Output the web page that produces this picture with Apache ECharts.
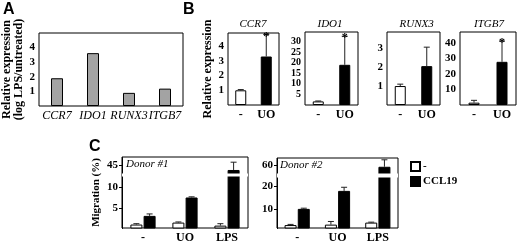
<!DOCTYPE html>
<html>
<head>
<meta charset="utf-8">
<script src="https://cdn.jsdelivr.net/npm/echarts@6/dist/echarts.min.js"></script>
<style>
  body { margin: 0; background: #fff; }
  #div_chart { width: 520px; height: 244px; }
</style>
</head>
<body>
<div id="div_chart"></div>
<script>
"use strict";

// panel A: log LPS/untreated
const genes_a = ["CCR7", "IDO1", "RUNX3", "ITGB7"];
const values_a = [1.9, 3.62, 0.9, 1.19];
const ticks_a = [1, 2, 3, 4];

// panel B: relative expression, "-" vs UO
const treat_b = ["-", "UO"];
const ccr7_mean = [1.0, 3.3];
const ccr7_err = [1.05, 4.8];
const ido1_mean = [1.7, 19.0];
const ido1_err = [1.9, 32.5];
const runx3_mean = [1.0, 2.05];
const runx3_err = [1.1, 3.05];
const itgb7_mean = [1.5, 27.8];
const itgb7_err = [3.0, 41.2];
const ticks_ccr7 = [1, 2, 3, 4];
const ticks_ido1 = [5, 10, 15, 20, 25, 30];
const ticks_runx3 = [1, 2, 3];
const ticks_itgb7 = [10, 20, 30, 40];
const stars_sig = ["", "*"];

// panel C: migration (%)
const treat_c = ["-", "UO", "LPS"];
const d1_ctrl = [1.3, 1.75, 1.05];
const d1_ctrl_err = [1.5, 1.9, 1.5];
const d1_ccl19 = [3.3, 7.55, 43.8];
const d1_ccl19_err = [3.75, 7.7, 45.6];
const d2_ctrl = [2.8, 3.0, 3.9];
const d2_ctrl_err = [3.1, 4.4, 4.1];
const d2_ccl19 = [10.0, 18.0, 59.3];
const d2_ccl19_err = [10.3, 19.6, 62.4];
const ticks_d1 = [5, 10, 45];
const ticks_d2 = [10, 20, 60];

const SERIF = "Liberation Serif";
const SANS = "Liberation Sans";

const chart = echarts.init(document.getElementById("div_chart"));

const grids = [];
const x_axes = [];
const y_axes = [];
const series = [];

function to_err_data(means, errs) {
  return means.map((m, i) => [i, m, errs[i]]);
}

// draws an upper error bar (and optional star) through the axis scales
function render_err(offset_px, stars) {
  return function (params, api) {
    const i = api.value(0);
    const p_top = api.coord([i, api.value(2)]);
    const p_base = api.coord([i, api.value(1)]);
    const x = p_top[0] + offset_px;
    const st = { stroke: "#222", lineWidth: 1 };
    const children = [
      { type: "line", shape: { x1: x, y1: p_base[1], x2: x, y2: p_top[1] }, style: st },
      { type: "line", shape: { x1: x - 3, y1: p_top[1], x2: x + 3, y2: p_top[1] }, style: st },
    ];
    if (stars && stars[i]) {
      children.push({
        type: "text",
        style: { text: stars[i], x: x, y: p_top[1] + 2, align: "center", verticalAlign: "middle",
          font: "bold 12px " + SERIF, fill: "#000" },
      });
    }
    return { type: "group", children: children };
  };
}

function add_grid(pos, cats, cat_label, y_opt) {
  const idx = grids.length;
  const y_min = y_opt.min !== undefined ? y_opt.min : 0;
  // an empty label at the axis min, so the first real tick label is never dropped
  const label_values = [y_min].concat(y_opt.ticks);
  grids.push(Object.assign({ show: true, borderColor: "#000", borderWidth: 1, backgroundColor: "transparent" }, pos));
  x_axes.push({
    gridIndex: idx, type: "category", data: cats,
    axisLine: { show: false }, axisTick: { show: false },
    axisLabel: Object.assign({ color: "#000", fontFamily: SERIF, fontSize: 11, fontWeight: "bold", margin: 4, interval: 0 }, cat_label),
  });
  y_axes.push(Object.assign({
    gridIndex: idx, type: "value", min: 0,
    splitLine: { show: false },
    axisLine: { show: false },
    axisTick: { show: false },
    nameTextStyle: { color: "#000", fontFamily: SERIF, fontSize: 12, fontWeight: "bold" },
  }, y_opt, {
    axisLabel: Object.assign({
      color: "#000", fontFamily: SERIF, fontSize: 11, fontWeight: "bold", margin: 4,
      customValues: label_values, showMinLabel: true, showMaxLabel: true, hideOverlap: false,
      formatter: (v) => (y_opt.ticks.indexOf(v) >= 0 ? String(v) : ""),
    }, y_opt.axisLabel || {}),
  }));
  return idx;
}

function bar(idx, name, data, color, width, gap) {
  return {
    type: "bar", name: name, xAxisIndex: idx, yAxisIndex: idx, data: data,
    barWidth: width, barGap: gap || "10%",
    itemStyle: { color: color, borderColor: "#000", borderWidth: 1 },
    silent: true, animation: false,
  };
}

function err(idx, means, errs, offset, stars) {
  return {
    type: "custom", xAxisIndex: idx, yAxisIndex: idx, z: 5, clip: false,
    data: to_err_data(means, errs), renderItem: render_err(offset, stars),
    silent: true, animation: false,
  };
}

//
// Panel A
//
let g = add_grid({ left: 39, top: 33, width: 144, height: 73 }, genes_a,
  { fontStyle: "italic", fontWeight: "normal", fontSize: 12 },
  { max: 5, ticks: ticks_a, name: "Relative expression\n(log LPS/untreated)", nameLocation: "middle", nameGap: 14,
    nameTextStyle: { color: "#000", fontFamily: SERIF, fontSize: 12, fontWeight: "bold", lineHeight: 12 } });
series.push(bar(g, "A", values_a, "#a3a3a3", 12));

//
// Panel B
//
const b_panels = [
  { title: "CCR7", pos: { left: 228, top: 33, width: 51, height: 72 }, max: 4.9, ticks: ticks_ccr7, mean: ccr7_mean, err: ccr7_err, stars: stars_sig, fs: 11 },
  { title: "IDO1", pos: { left: 305, top: 32, width: 53, height: 73 }, max: 34.5, ticks: ticks_ido1, mean: ido1_mean, err: ido1_err, stars: stars_sig, fs: 10 },
  { title: "RUNX3", pos: { left: 387, top: 32, width: 53, height: 73 }, max: 3.85, ticks: ticks_runx3, mean: runx3_mean, err: runx3_err, stars: null, fs: 11 },
  { title: "ITGB7", pos: { left: 460, top: 32, width: 56, height: 73 }, max: 47, ticks: ticks_itgb7, mean: itgb7_mean, err: itgb7_err, stars: stars_sig, fs: 11 },
];
const b_titles = [];
for (const [k, p] of b_panels.entries()) {
  const y_opt = { max: p.max, ticks: p.ticks, axisLabel: { fontSize: p.fs, lineHeight: p.fs } };
  if (k === 0) {
    Object.assign(y_opt, { name: "Relative expression", nameLocation: "middle", nameGap: 14 });
  }
  g = add_grid(p.pos, treat_b, { fontSize: 12 }, y_opt);
  series.push({
    type: "bar", xAxisIndex: g, yAxisIndex: g, barWidth: 11, silent: true, animation: false,
    data: p.mean.map((v, i) => ({ value: v, itemStyle: { color: i === 0 ? "#fff" : "#000" } })),
    itemStyle: { borderColor: "#000", borderWidth: 1 },
  });
  series.push(err(g, p.mean, p.err, 0, p.stars));
  b_titles.push({
    type: "text", left: p.pos.left + p.pos.width / 2 - 14, top: 19,
    style: { text: p.title, font: "italic 11px " + SERIF, fill: "#000", width: 28, align: "center" },
  });
}

//
// Panel C
//
const break_area = {
  show: true, zigzagAmplitude: 0,
  itemStyle: { color: "#fff", borderColor: "#fff", borderWidth: 0, opacity: 1 },
};
const c_panels = [
  { pos: { left: 122, top: 157, width: 126, height: 74 }, min: 0.5, max: 46.8, brk: { start: 12.45, end: 43, gap: "4%" },
    ticks: ticks_d1, ctrl: d1_ctrl, ctrl_err: d1_ctrl_err, ccl: d1_ccl19, ccl_err: d1_ccl19_err },
  { pos: { left: 277, top: 158, width: 121, height: 73 }, min: 1.5, max: 63.2, brk: { start: 24, end: 56.3, gap: "5.5%" },
    ticks: ticks_d2, ctrl: d2_ctrl, ctrl_err: d2_ctrl_err, ccl: d2_ccl19, ccl_err: d2_ccl19_err },
];
for (const [k, p] of c_panels.entries()) {
  const y_opt = {
    min: p.min, max: p.max, ticks: p.ticks, breaks: [p.brk], breakArea: break_area,
    axisTick: { show: true, inside: false, length: 3, lineStyle: { color: "#000" }, customValues: p.ticks },
    axisLine: { show: true, lineStyle: { color: "#000" } },
  };
  if (k === 0) {
    Object.assign(y_opt, { name: "Migration (%)", nameLocation: "middle", nameGap: 20,
      nameTextStyle: { color: "#000", fontFamily: SERIF, fontSize: 11, fontWeight: "bold" } });
  }
  g = add_grid(p.pos, treat_c, { fontSize: 12 }, y_opt);
  series.push(bar(g, "-", p.ctrl, "#fff", 12, "10%"));
  series.push(bar(g, "CCL19", p.ccl, "#000", 12, "10%"));
  series.push(err(g, p.ctrl, p.ctrl_err, -6.6, null));
  series.push(err(g, p.ccl, p.ccl_err, 6.6, null));
}

chart.setOption({
  animation: false,
  textStyle: { fontFamily: SERIF },
  grid: grids,
  xAxis: x_axes,
  yAxis: y_axes,
  series: series,
  legend: {
    data: ["-", "CCL19"], orient: "vertical", left: 405, top: 156,
    itemWidth: 9, itemHeight: 9, itemGap: 4, icon: "rect", selectedMode: false,
    textStyle: { color: "#000", fontFamily: SERIF, fontSize: 11, fontWeight: "bold", padding: [0, 0, 0, -2] },
  },
  graphic: [
    { type: "text", left: 3, top: 2, style: { text: "A", font: "bold 16px " + SANS, fill: "#000" } },
    { type: "text", left: 183, top: 2, style: { text: "B", font: "bold 16px " + SANS, fill: "#000" } },
    { type: "text", left: 89, top: 139, style: { text: "C", font: "bold 16px " + SANS, fill: "#000" } },
    { type: "text", left: 126, top: 159, z: 10, style: { text: "Donor #1", font: "italic 11px " + SERIF, fill: "#000" } },
    { type: "text", left: 280, top: 160, z: 10, style: { text: "Donor #2", font: "italic 11px " + SERIF, fill: "#000" } },
  ].concat(b_titles),
});
</script>
</body>
</html>
